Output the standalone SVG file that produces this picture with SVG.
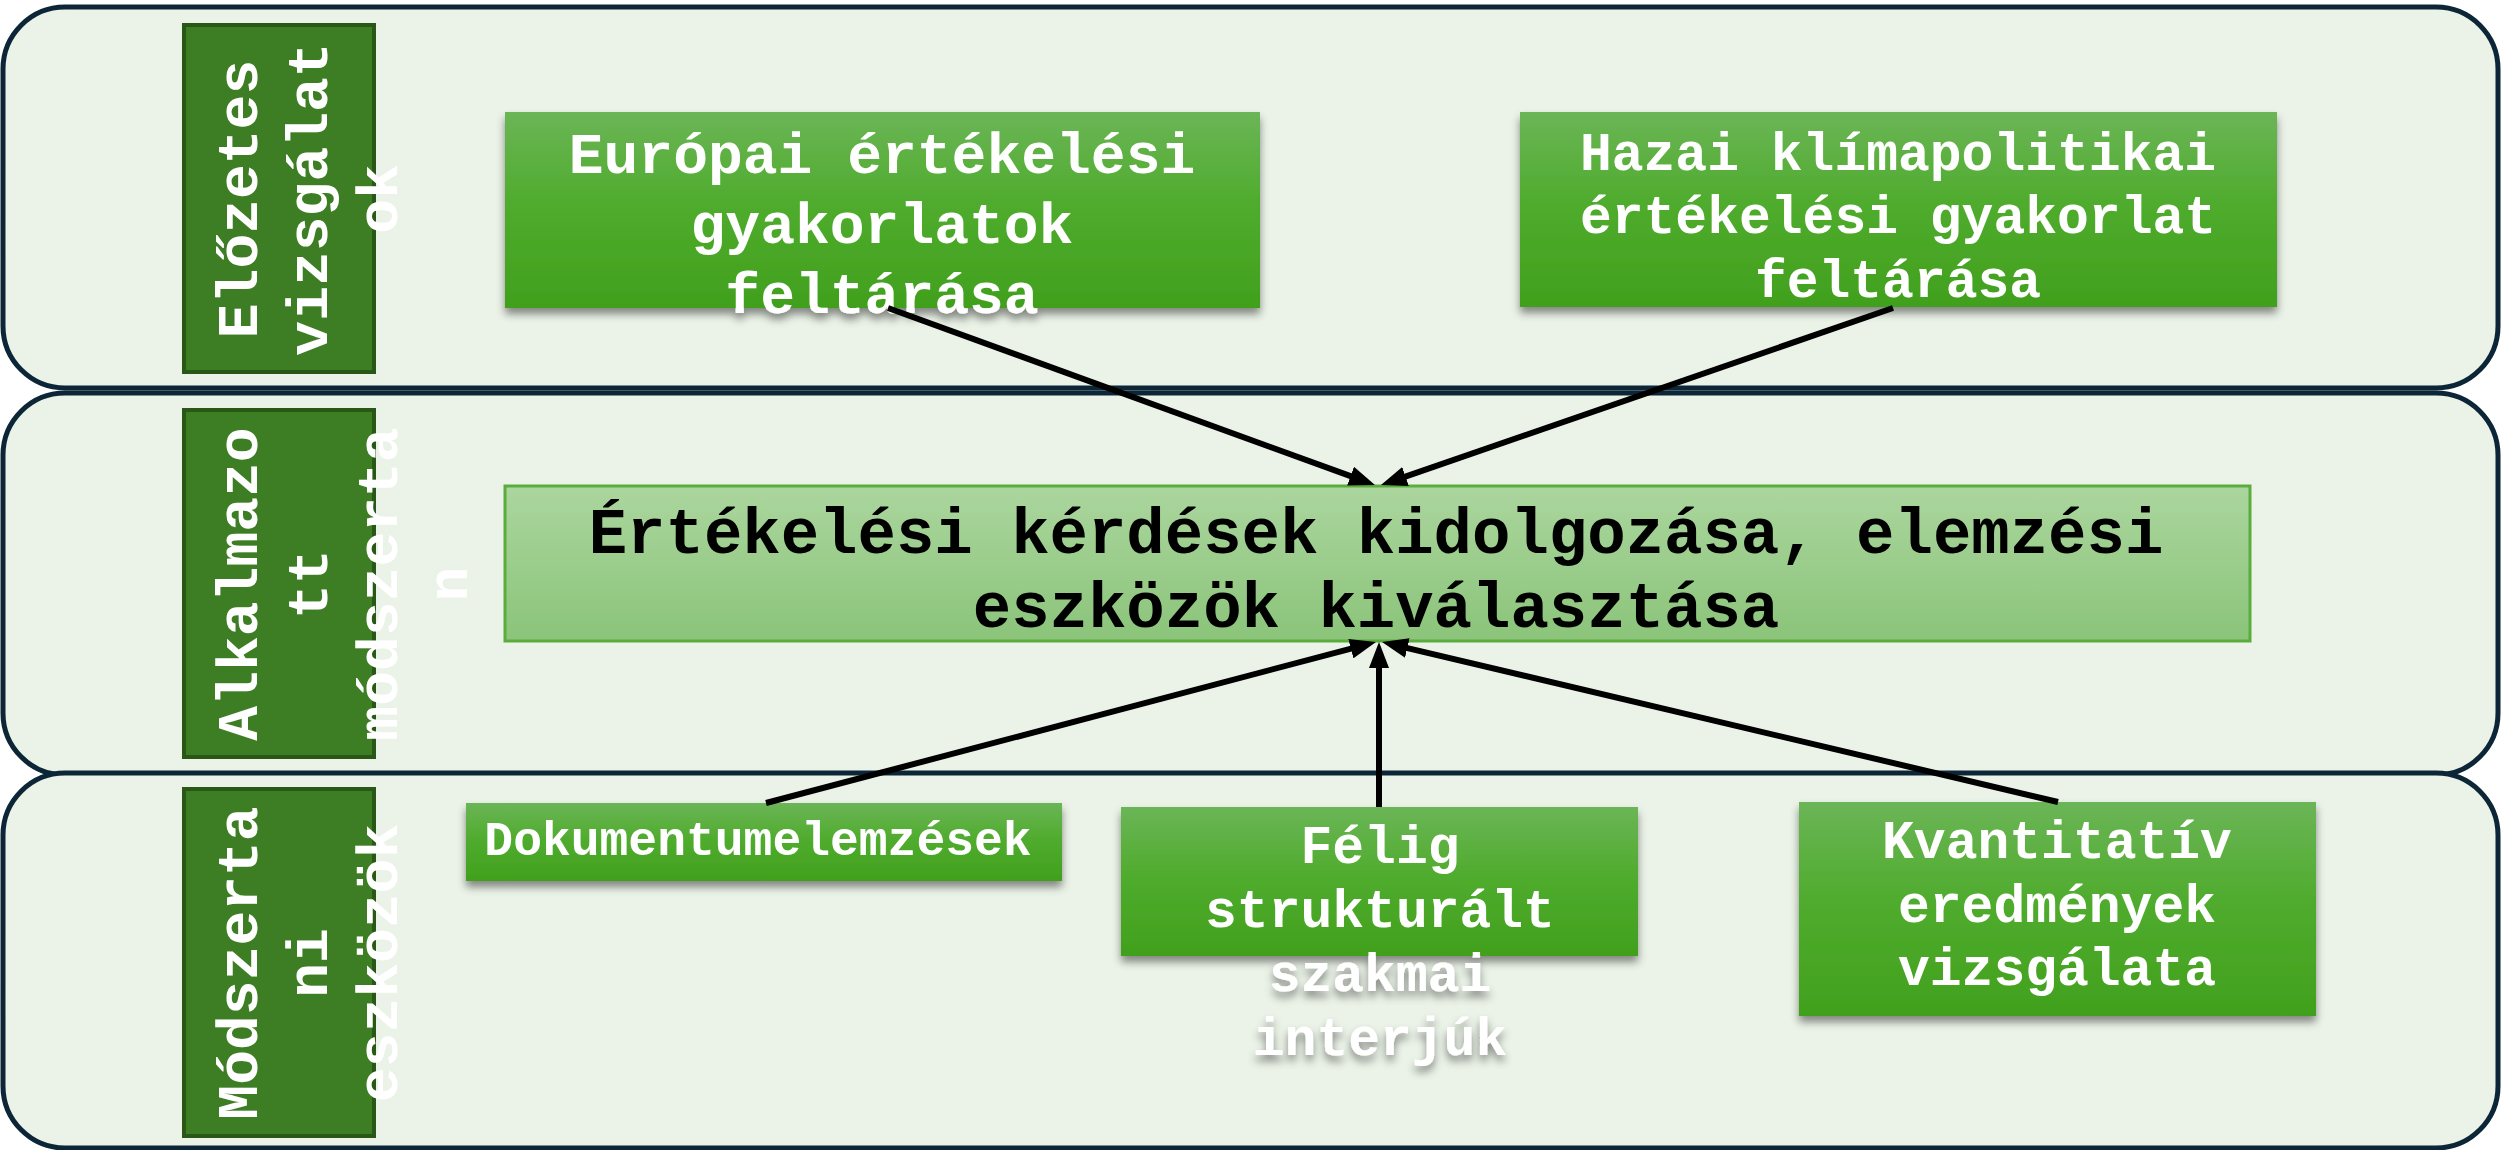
<svg xmlns="http://www.w3.org/2000/svg" width="2501" height="1150" viewBox="0 0 2501 1150">
<defs>
<linearGradient id="gNode" x1="0" y1="0" x2="0" y2="1">
<stop offset="0" stop-color="#6bb557"/>
<stop offset="0.45" stop-color="#50ac2e"/>
<stop offset="1" stop-color="#41a01d"/>
</linearGradient>
<linearGradient id="gCenter" x1="0" y1="0" x2="0" y2="1">
<stop offset="0" stop-color="#abd69e"/>
<stop offset="1" stop-color="#8bc47a"/>
</linearGradient>
<filter id="shadow" x="-10%" y="-20%" width="120%" height="150%">
<feDropShadow dx="0" dy="6" stdDeviation="4" flood-color="#000" flood-opacity="0.45"/>
</filter>
<marker id="arrow" markerUnits="userSpaceOnUse" viewBox="0 0 26 20" refX="14" refY="10" markerWidth="26" markerHeight="20" orient="auto">
<path d="M0,0 L26,10 L0,20 z" fill="#000"/>
</marker>
</defs>
<style>
.band{fill:#ebf3e8;stroke:#0c2637;stroke-width:5}
.lab{fill:#3d7e24;stroke:#285716;stroke-width:4}
.labt{font-family:"Liberation Mono","Courier New",monospace;font-weight:bold;font-size:58px;fill:#fff;text-anchor:middle}
.node{fill:url(#gNode)}
.nt{font-family:"Liberation Mono","Courier New",monospace;font-weight:bold;fill:#fff;text-anchor:middle}
.ct{font-family:"Liberation Mono","Courier New",monospace;font-weight:bold;font-size:64px;fill:#000;text-anchor:middle}
.conn{stroke:#000;stroke-width:6;fill:none;marker-end:url(#arrow)}
</style>
<rect width="2501" height="1150" fill="#fff"/>
<g id="band1">
<rect class="band" x="3" y="7" width="2495" height="381" rx="62" ry="62"/>
<rect class="lab" x="184" y="25" width="190" height="347"/>
<text class="labt" transform="translate(257,199) rotate(-90)">Előzetes</text>
<text class="labt" transform="translate(327,199) rotate(-90)">vizsgálat</text>
<text class="labt" transform="translate(397,199) rotate(-90)">ok</text>
</g>
<g id="band2">
<rect class="band" x="3" y="393" width="2495" height="382" rx="62" ry="62"/>
<rect class="lab" x="184" y="410" width="190" height="347"/>
<text class="labt" transform="translate(257,584) rotate(-90)">Alkalmazo</text>
<text class="labt" transform="translate(327,584) rotate(-90)">tt</text>
<text class="labt" transform="translate(397,584) rotate(-90)">módszerta</text>
<text class="labt" transform="translate(467,584) rotate(-90)">n</text>
</g>
<g id="band3">
<rect class="band" x="3" y="773" width="2495" height="375" rx="62" ry="62"/>
<rect class="lab" x="184" y="789" width="190" height="347"/>
<text class="labt" transform="translate(257,963) rotate(-90)">Módszerta</text>
<text class="labt" transform="translate(327,963) rotate(-90)">ni</text>
<text class="labt" transform="translate(397,963) rotate(-90)">eszközök</text>
</g>
<g id="n-europai" filter="url(#shadow)">
<rect class="node" x="505" y="112" width="755" height="196"/>
<text class="nt" font-size="58" x="882" y="173">Európai értékelési</text>
<text class="nt" font-size="58" x="882" y="243">gyakorlatok</text>
<text class="nt" font-size="58" x="882" y="313">feltárása</text>
</g>
<g id="n-hazai" filter="url(#shadow)">
<rect class="node" x="1520" y="112" width="757" height="195"/>
<text class="nt" font-size="53" x="1898" y="170">Hazai klímapolitikai</text>
<text class="nt" font-size="53" x="1898" y="233">értékelési gyakorlat</text>
<text class="nt" font-size="53" x="1898" y="297">feltárása</text>
</g>
<g id="n-center">
<rect x="505" y="486" width="1745" height="155" fill="url(#gCenter)" stroke="#5aac3c" stroke-width="3"/>
<text class="ct" x="1376" y="553">Értékelési kérdések kidolgozása, elemzési</text>
<text class="ct" x="1376" y="627">eszközök kiválasztása</text>
</g>
<g id="n-dok" filter="url(#shadow)">
<rect class="node" x="466" y="803" width="596" height="78"/>
<text class="nt" font-size="48" x="758" y="855">Dokumentumelemzések</text>
</g>
<g id="n-felig" filter="url(#shadow)">
<rect class="node" x="1121" y="807" width="517" height="149"/>
<text class="nt" font-size="53" x="1380" y="863">Félig</text>
<text class="nt" font-size="53" x="1380" y="927">strukturált</text>
<text class="nt" font-size="53" x="1380" y="991">szakmai</text>
<text class="nt" font-size="53" x="1380" y="1055">interjúk</text>
</g>
<g id="n-kvant" filter="url(#shadow)">
<rect class="node" x="1799" y="802" width="517" height="214"/>
<text class="nt" font-size="53" x="2057" y="858">Kvantitatív</text>
<text class="nt" font-size="53" x="2057" y="922">eredmények</text>
<text class="nt" font-size="53" x="2057" y="985">vizsgálata</text>
</g>
<g id="connectors">
<line class="conn" x1="888" y1="308" x2="1363.7" y2="480.9"/>
<line class="conn" x1="1893" y1="308" x2="1392.3" y2="481.1"/>
<line class="conn" x1="766" y1="803" x2="1364.4" y2="645.1"/>
<line class="conn" x1="1379" y1="807" x2="1379" y2="654"/>
<line class="conn" x1="2058" y1="802" x2="1393.7" y2="644.8"/>
</g>
</svg>
